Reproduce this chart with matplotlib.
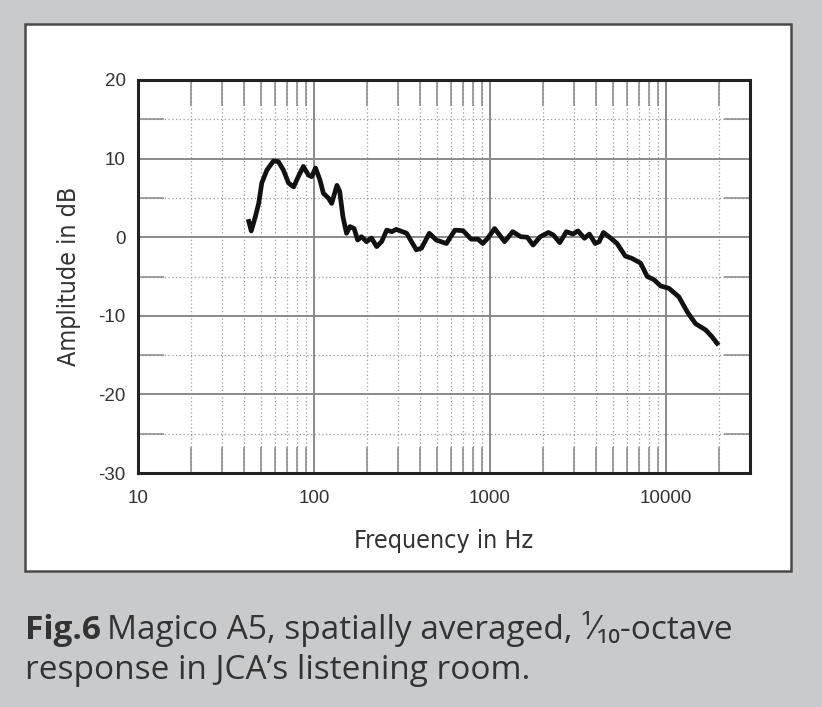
import matplotlib
matplotlib.use('Agg')
import matplotlib.pyplot as plt
from matplotlib.patches import Rectangle
from matplotlib.ticker import FixedLocator, NullFormatter
import numpy as np

plt.rcParams['axes.unicode_minus'] = False

# 1/10-octave response
freq_hz = [42.6, 44, 46.4, 48.5, 50.5, 54, 58.9, 62.8, 67, 71.6, 76.6, 81.4, 87, 93, 97,
           102, 108, 113, 121, 126, 135, 140, 146, 153, 160, 169, 177, 186, 199, 212,
           227, 242, 259, 277, 293, 336, 381, 408, 452, 495, 565, 632, 703, 781, 854,
           910, 970, 1062, 1133, 1209, 1345, 1497, 1627, 1756, 1929, 2147, 2290, 2490,
           2715, 2960, 3160, 3440, 3670, 3960, 4170, 4410, 4864, 5270, 5870, 6410, 7170,
           7820, 8540, 9310, 10390, 11840, 13200, 14700, 16800, 18300, 19500]
amp_db = [2.0, 0.8, 2.6, 4.3, 6.9, 8.55, 9.7, 9.6, 8.55, 6.9, 6.4, 7.7, 9.0, 7.9, 7.7,
          8.8, 7.3, 5.6, 4.95, 4.3, 6.6, 5.8, 2.6, 0.5, 1.35, 1.1, -0.36, 0.06, -0.57, -0.1,
          -1.2, -0.57, 0.9, 0.7, 1.0, 0.5, -1.6, -1.4, 0.5, -0.36, -0.8, 0.9, 0.83, -0.25, -0.25,
          -0.8, -0.14, 1.1, 0.28, -0.57, 0.7, 0.06, 0.0, -1.0, 0.06, 0.6, 0.28, -0.7,
          0.7, 0.4, 0.8, -0.14, 0.4, -0.8, -0.57, 0.6, -0.14, -0.8, -2.4, -2.7, -3.3,
          -5.0, -5.4, -6.2, -6.5, -7.6, -9.5, -11.0, -11.8, -12.7, -13.5]

x_ticks = [10, 100, 1000, 10000]
x_tick_labels = ['10', '100', '1000', '10000']
y_ticks = [-30, -20, -10, 0, 10, 20]
y_minor = [-25, -15, -5, 5, 15]

W, H = 822, 707
fig = plt.figure(figsize=(W / 100, H / 100), dpi=100, facecolor='#c9cacc')

# white panel behind the chart
fig.patches.append(Rectangle((25 / W, 1 - 571 / H), 766 / W, 547 / H, transform=fig.transFigure,
                             facecolor='white', edgecolor='#4a4a4a', linewidth=1.8, zorder=-5))

ax = fig.add_axes([138 / W, 1 - 473 / H, 612 / W, 393 / H])
ax.set_zorder(2)
ax.set_xscale('log')
ax.set_xlim(10, 30000)
ax.set_ylim(-30, 20)

# grid: solid at decades / 10 dB, dotted for the rest
minor_x = [m * d for d in [10, 100, 1000, 10000] for m in range(2, 10) if m * d < 30000]
ax.xaxis.set_major_locator(FixedLocator(x_ticks))
ax.xaxis.set_minor_locator(FixedLocator(minor_x))
ax.xaxis.set_minor_formatter(NullFormatter())
ax.set_xticklabels(x_tick_labels)
ax.yaxis.set_major_locator(FixedLocator(y_ticks))
ax.yaxis.set_minor_locator(FixedLocator(y_minor))

ax.grid(which='major', color='#8a8a8a', linewidth=1.4, linestyle='-')
ax.grid(which='minor', color='#9a9a9a', linewidth=0.9, linestyle=(0, (1, 2)))
ax.tick_params(which='major', length=0, labelsize=13.5, labelcolor='#333333')
ax.tick_params(axis='x', which='major', pad=12)
ax.tick_params(axis='y', which='major', pad=9)
ax.tick_params(which='minor', direction='in', length=19, width=1.1, color='#888888',
               top=True, bottom=True, left=True, right=True)
for lab in ax.get_xticklabels() + ax.get_yticklabels():
    lab.set_family('Liberation Sans')
for s in ax.spines.values():
    s.set_linewidth(2.2)
    s.set_color('#222222')
ax.set_axisbelow(True)

ax.plot(freq_hz, amp_db, color='#111111', linewidth=3.4, solid_joinstyle='round', zorder=3)

lab_font = ['DejaVu Sans']
ax.set_xlabel('Frequency in Hz', family=lab_font, fontstretch='condensed',
              fontsize=18, color='#333333', labelpad=16)
ax.set_ylabel('Amplitude in dB', family=lab_font, fontstretch='condensed',
              fontsize=18, color='#333333', labelpad=12)

# caption
cap_font = ['Open Sans', 'DejaVu Sans']
t1 = fig.text(25 / W, 1 - 639 / H, 'Fig.6', family=cap_font, fontweight='bold',
              fontsize=24, color='#333333')
fig.canvas.draw()
bb = t1.get_window_extent()
fig.text((bb.x1 + 6) / W, 1 - 639 / H, 'Magico A5, spatially averaged, \u00b9\u2044\u2081\u2080-octave',
         family=cap_font, fontsize=24, color='#333333')
fig.text(25 / W, 1 - 679 / H, 'response in JCA\u2019s listening room.',
         family=cap_font, fontsize=24, color='#333333')

fig.savefig('out.png', dpi=100, facecolor=fig.get_facecolor())
